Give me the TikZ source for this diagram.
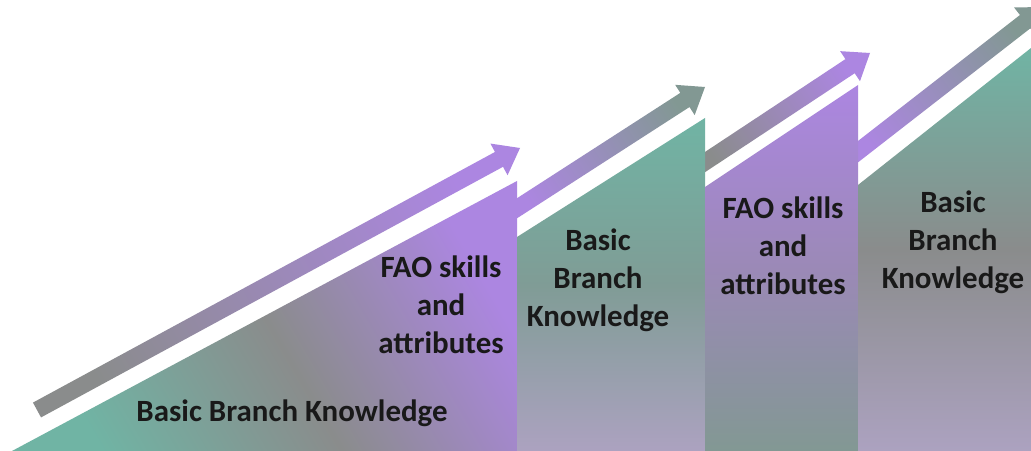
\documentclass[tikz,border=0pt]{standalone}
\usepackage{fontspec}
\setmainfont{Carlito}
\usetikzlibrary{calc}

\definecolor{stepteal}{RGB}{112,180,164}
\definecolor{steppurple}{RGB}{172,134,225}
\definecolor{stepgrey}{RGB}{138,140,140}
\definecolor{steplav}{RGB}{172,162,192}

\tikzset{
  lbl/.style={font=\fontsize{22}{27}\selectfont\bfseries, align=center, text=black!90},
}

% slanted arrow: tail, tip, tail colour, tip colour, shading angle
\newcommand{\stepArrow}[5]{%
  \coordinate (#2-base) at ($(#2)!17pt!(#1)$);
  \shade[left color=#3, right color=#4, shading angle=#5]
    ($(#1)!6pt!90:(#2)$) -- ($(#2-base)!6pt!90:(#2)$)
    -- ($(#2-base)!12.8pt!90:(#2)$) -- (#2)
    -- ($(#2-base)!12.8pt!-90:(#2)$) -- ($(#2-base)!6pt!-90:(#2)$)
    -- ($(#1)!6pt!-90:(#2)$) -- cycle;
}

\begin{document}
\begin{tikzpicture}[x=0.025cm, y=-0.025cm]
            \fill[white] (0,0) rectangle (1031,451);
            \useasboundingbox (0,0) rectangle (1031,451);
            \clip (0,0) rectangle (1031,451);
            % Arrows
            \coordinate (a1t) at (37,410);  \coordinate (a1h) at (520,148);
            \coordinate (a2t) at (505,216); \coordinate (a2h) at (705,87);
            \coordinate (a3t) at (693,170); \coordinate (a3h) at (870,53);
            \coordinate (a4t) at (846,161); \coordinate (a4h) at (1044,7);
            \stepArrow{a1t}{a1h}{stepgrey}{steppurple}{118.5}
            \stepArrow{a2t}{a2h}{steppurple}{stepgrey!70!stepteal}{122.8}
            \stepArrow{a3t}{a3h}{stepgrey}{steppurple}{123.5}
            \stepArrow{a4t}{a4h}{steppurple}{stepgrey!70!stepteal}{127.9}
            % Steps
            \shade[left color=stepteal, right color=steppurple, middle color=stepgrey, shading angle=120]
              (12,451) -- (517,181) -- (517,451) -- cycle;
            \shade[top color=stepteal, bottom color=steplav, middle color=stepgrey!60!stepteal]
              (517,237) -- (705,118) -- (705,451) -- (517,451) -- cycle;
            \shade[top color=steppurple, bottom color=stepgrey!70!stepteal, middle color=stepgrey!50!steppurple]
              (705,187) -- (858,85) -- (858,451) -- (705,451) -- cycle;
            \shade[top color=stepteal, bottom color=steplav, middle color=stepgrey]
              (858,185) -- (1031,48) -- (1031,451) -- (858,451) -- cycle;
            % Labels
            \node[lbl] (base1) at (292,413) {Basic Branch Knowledge};
            \node[lbl] (fao1) at (441,305) {FAO skills\\and\\attributes};
            \node[lbl] (base2) at (598,280) {Basic\\Branch\\Knowledge};
            \node[lbl] (fao2) at (783,246) {FAO skills\\and\\attributes};
            \node[lbl] (base3) at (953,242) {Basic\\Branch\\Knowledge};
\end{tikzpicture}
\end{document}
